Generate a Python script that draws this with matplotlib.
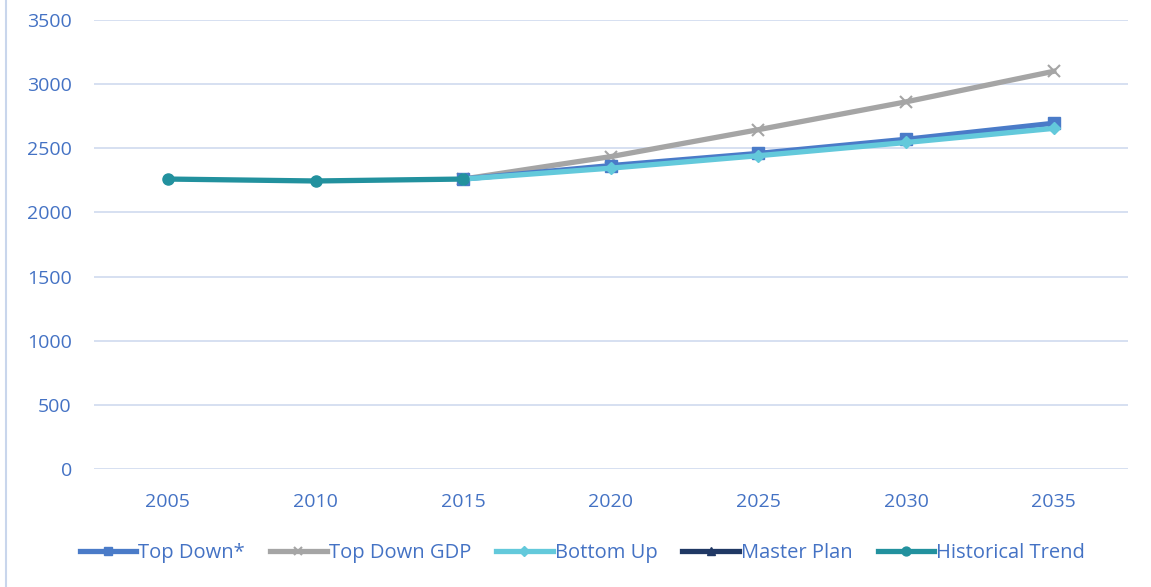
import numpy as np
import matplotlib
matplotlib.use("Agg")
import matplotlib.pyplot as plt
from matplotlib.lines import Line2D

years = ["2005", "2010", "2015", "2020", "2025", "2030", "2035"]
nan = np.nan
top_down = [nan, nan, 2260, 2365, 2460, 2570, 2695]
top_down_gdp = [nan, nan, 2260, 2435, 2645, 2862, 3100]
bottom_up = [nan, nan, 2260, 2345, 2442, 2545, 2655]
master_plan = [nan, nan, nan, nan, nan, nan, nan]
historical = [2260, 2245, 2260, nan, nan, nan, nan]

plt.rcParams['font.family'] = ['Open Sans', 'DejaVu Sans']
txt = '#4472C4'

fig = plt.figure(figsize=(11.51, 5.87), dpi=100)
ax = fig.add_axes([0.0817, 0.201, 0.898, 0.765])

x = np.arange(len(years))
lw = 3.8
ax.plot(x, master_plan, color='#203864', lw=lw, marker='^', ms=8, label='Master Plan')
ax.plot(x, top_down_gdp, color='#A5A5A5', lw=lw, marker='x', ms=8, mew=1.5, label='Top Down GDP')
ax.plot(x, top_down, color='#4A7BC8', lw=lw, marker='s', ms=8, label='Top Down*')
ax.plot(x, bottom_up, color='#63C9DB', lw=lw, marker='D', ms=6, label='Bottom Up')
ax.plot(x, historical, color='#22919E', lw=lw, marker='o', ms=8, label='Historical Trend')

ax.set_xlim(-0.5, len(years) - 0.5)
ax.set_ylim(0, 3500)
ax.set_yticks(range(0, 3501, 500))
ax.set_xticks(x)
ax.set_xticklabels(years)
ax.grid(axis='y', color='#D3DDF0', lw=1.3)
ax.set_axisbelow(True)
for s in ax.spines.values():
    s.set_visible(False)
ax.tick_params(length=0, labelsize=14, labelcolor=txt)
ax.tick_params(axis='x', pad=17)
ax.tick_params(axis='y', pad=16)

h, l = ax.get_legend_handles_labels()
order = ['Top Down*', 'Top Down GDP', 'Bottom Up', 'Master Plan', 'Historical Trend']
hh = [h[l.index(o)] for o in order]
leg = fig.legend(hh, order, loc='center', bbox_to_anchor=(0.506, 0.058), ncol=5,
                 frameon=False, fontsize=14.5, handlelength=2.8, handletextpad=0.1,
                 columnspacing=1.25, labelcolor=txt, markerscale=0.8)

fig.add_artist(Line2D([0.0055, 0.0055], [0, 1], color='#C9D6EC', lw=1.5, transform=fig.transFigure))

fig.savefig('out.png', dpi=100)
